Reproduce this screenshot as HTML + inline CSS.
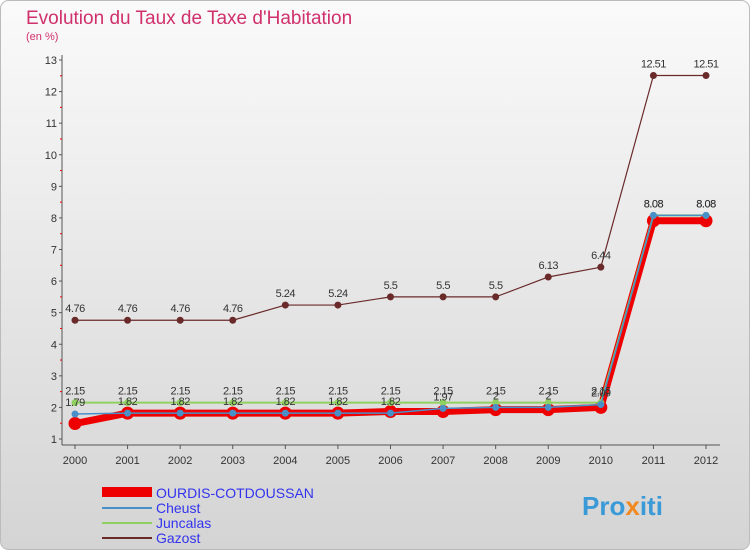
<!DOCTYPE html>
<html><head><meta charset="utf-8"><style>
body{margin:0;width:750px;height:550px;overflow:hidden;font-family:"Liberation Sans",sans-serif}
</style></head><body>
<svg width="750" height="550" xmlns="http://www.w3.org/2000/svg">
<defs><linearGradient id="bg" x1="0" y1="0" x2="0" y2="1"><stop offset="0" stop-color="#fafafa"/><stop offset="1" stop-color="#d4d4d4"/></linearGradient></defs>
<rect x="0.5" y="0.5" width="749" height="549" rx="8" fill="url(#bg)" stroke="#bbb"/>
<text x="26" y="24" font-size="19" fill="#d0306b">Evolution du Taux de Taxe d'Habitation</text>
<text x="26" y="40" font-size="11" fill="#d0306b">(en %)</text>
<g id="axes"></g><g id="series"></g>
<g>
<rect x="102" y="487" width="50" height="10" fill="#ee0000"/>
<text x="156" y="498" font-size="14" fill="#3333ee">OURDIS-COTDOUSSAN</text>
<line x1="102" y1="508" x2="152" y2="508" stroke="#4a90c8" stroke-width="2"/>
<text x="156" y="513" font-size="14" fill="#3333ee">Cheust</text>
<line x1="102" y1="523" x2="152" y2="523" stroke="#90d060" stroke-width="2"/>
<text x="156" y="528" font-size="14" fill="#3333ee">Juncalas</text>
<line x1="102" y1="538" x2="152" y2="538" stroke="#6a2a2a" stroke-width="2"/>
<text x="156" y="543" font-size="14" fill="#3333ee">Gazost</text>
</g>
<text x="582" y="515" font-size="26" font-weight="bold" fill="#3a9ad8">Pro<tspan fill="#f08a20">x</tspan>iti</text>
</svg>
<script>
const years=[2000,2001,2002,2003,2004,2005,2006,2007,2008,2009,2010,2011,2012];
const yTicks=[1,2,3,4,5,6,7,8,9,10,11,12,13];
const ourdis=[1.49,1.82,1.82,1.82,1.82,1.82,1.87,1.87,1.93,1.93,2.0,7.91,7.91];
const cheust=[1.79,1.82,1.82,1.82,1.82,1.82,1.82,1.97,2.0,2.0,2.09,8.08,8.08];
const juncalas=[2.15,2.15,2.15,2.15,2.15,2.15,2.15,2.15,2.15,2.15,2.15,8.08,8.08];
const gazost=[4.76,4.76,4.76,4.76,5.24,5.24,5.5,5.5,5.5,6.13,6.44,12.51,12.51];
const NS="http://www.w3.org/2000/svg";
const X=i=>75+i*(706-75)/(years.length-1);
const Y=v=>439-(v-1)*(439-60)/12;
function mk(p,t,a){const e=document.createElementNS(NS,t);for(const k in a)e.setAttribute(k,a[k]);p.appendChild(e);return e;}
const ax=document.getElementById('axes');
const yl=mk(ax,'line',{x1:62,y1:55,x2:62,y2:445,stroke:'#555'});


const xl=mk(ax,'line',{x1:62,y1:445,x2:720,y2:445,stroke:'#555'});


yTicks.forEach(v=>{const t=mk(ax,'text',{x:57,y:Y(v)+4,'font-size':11,'text-anchor':'end',fill:'#333'});t.textContent=v;


mk(ax,'line',{x1:59,y1:Y(v),x2:62,y2:Y(v),stroke:'#555'});
if(v<13)mk(ax,'line',{x1:60,y1:Y(v+0.5),x2:62,y2:Y(v+0.5),stroke:'#e00'});});
years.forEach((y,i)=>{const t=mk(ax,'text',{x:X(i),y:464,'font-size':11,'text-anchor':'middle',fill:'#333'});t.textContent=y;


mk(ax,'line',{x1:X(i),y1:445,x2:X(i),y2:449,stroke:'#555'});});
const sg=document.getElementById('series');
function series(d,name,col,w,r,lab){const g=mk(sg,'g',{});


mk(g,'polyline',{points:d.map((v,i)=>X(i)+','+Y(v)).join(' '),fill:'none',stroke:col,'stroke-width':w,'stroke-linejoin':'round'});
d.forEach((v,i)=>{const c=mk(g,'circle',{cx:X(i),cy:Y(v),r:r,fill:col});


if(lab){const t=mk(g,'text',{x:X(i),y:Y(v)-8,'font-size':11,'text-anchor':'middle',fill:'#333','letter-spacing':'-0.5'});t.textContent=v;

}});}
series(gazost,'gazost','#6a2a2a',1.2,3.5,true);
series(ourdis,'ourdis','#ee0000',7,6.5,false);
series(juncalas,'juncalas','#90d060',2,3.5,true);
series(cheust,'cheust','#4a90c8',1.5,3.5,true);
</script>
</body></html>
